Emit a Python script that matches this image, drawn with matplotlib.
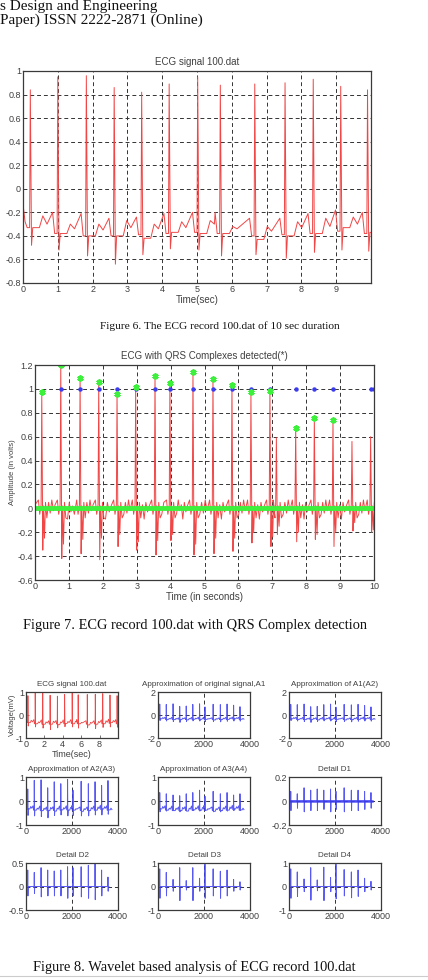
import numpy as np
import matplotlib.pyplot as plt
from matplotlib.ticker import FuncFormatter

plt.rcParams['font.family'] = ['Liberation Sans', 'DejaVu Sans']
plt.rcParams['axes.unicode_minus'] = False

# ---- Figure 6: raw ECG, 10 s ----
beat_t = [0.21, 1.00, 1.82, 2.62, 3.41, 4.20, 5.02, 5.67, 6.66, 7.53, 8.34, 9.13, 9.90]
r_amp = [0.84, 0.95, 0.96, 0.86, 0.82, 0.89, 0.95, 0.88, 0.89, 0.90, 0.93, 0.87, 0.84]
s_amp = [-0.48, -0.52, -0.57, -0.64, -0.56, -0.51, -0.52, -0.57, -0.56, -0.59, -0.54, -0.52, -0.53]
pr_lvl = [-0.33, -0.38, -0.40, -0.40, -0.39, -0.38, -0.37, -0.38, -0.40, -0.39, -0.38, -0.36, -0.38]
p_amp = [-0.28, -0.20, -0.21, -0.25, -0.24, -0.21, -0.20, -0.20, -0.25, -0.25, -0.21, -0.18, -0.20]
st_lvl = [-0.33, -0.38, -0.40, -0.40, -0.42, -0.37, -0.38, -0.38, -0.43, -0.40, -0.38, -0.33, -0.37]
t_amp = [-0.23, -0.30, -0.30, -0.27, -0.30, -0.28, -0.27, -0.32, -0.32, -0.28, -0.25, -0.24, -0.30]
t_end = [-0.30, -0.34, -0.35, -0.33, -0.34, -0.33, -0.30, -0.34, -0.36, -0.33, -0.32, -0.30, -0.36]
ecg_start = -0.13

# ---- Figure 7: filtered ECG + detections ----
qrs_t = [0.20, 0.76, 1.33, 1.88, 2.42, 2.97, 3.54, 3.98, 4.66, 5.25, 5.81, 6.37, 6.93, 7.12,
         7.69, 8.24, 8.79, 9.35, 9.90]
qrs_r = [0.95, 1.20, 1.09, 1.06, 0.96, 1.02, 1.12, 1.05, 1.14, 1.08, 1.03, 0.96, 0.98, 0.59,
         0.67, 0.76, 0.74, 0.56, 0.60]
qrs_s = [-0.35, -0.42, -0.38, -0.43, -0.32, -0.35, -0.39, -0.27, -0.39, -0.38, -0.36, -0.29,
         -0.32, -0.22, -0.28, -0.26, -0.32, -0.19, -0.20]
qrs_s2 = [-0.25, -0.30, -0.26, -0.25, -0.22, -0.28, -0.27, -0.22, -0.30, -0.25, -0.25, -0.20,
          -0.24, -0.15, -0.20, -0.22, -0.20, -0.12, -0.18]
pre7 = [0.07, -0.05, 0.03]
post7 = [0.02, 0.05, -0.08]
ripple7 = [0.05, -0.04, 0.07, -0.02, 0.03, -0.09, 0.05, -0.03, 0.02, -0.05]
star_t = [0.20, 0.76, 1.33, 1.88, 2.42, 2.97, 3.54, 3.98, 4.66, 5.25, 5.81, 6.37, 6.93,
          7.69, 8.24, 8.79]
star_v = [0.97, 1.20, 1.09, 1.06, 0.96, 1.02, 1.11, 1.05, 1.14, 1.08, 1.03, 0.97, 0.98,
          0.67, 0.76, 0.74]
dot_t = [0.76, 1.33, 1.88, 2.42, 2.97, 3.54, 3.98, 4.66, 5.25, 5.81, 6.37, 6.93, 7.69,
         8.24, 8.79, 9.92, 10.0]

# ---- Figure 8: wavelet approximations / details (per beat) ----
fs = 360
a1_r = [0.95, 0.92, 0.97, 0.75, 0.78, 0.92, 0.97, 0.70, 0.93, 0.90, 0.95, 0.85, 0.72]
a2_r = [0.92, 0.90, 0.95, 0.72, 0.75, 0.90, 0.95, 0.68, 0.92, 0.88, 0.93, 0.83, 0.70]
a3_r = [0.50, 0.86, 0.88, 0.55, 0.80, 0.72, 0.90, 0.45, 0.82, 0.72, 0.80, 0.65, 0.85]
a3_s = [-0.60, -0.62, -0.65, -0.70, -0.60, -0.58, -0.62, -0.60, -0.62, -0.62, -0.58, -0.58, -0.55]
a4_r = [0.35, 0.30, 0.25, 0.22, 0.30, 0.35, 0.45, 0.20, 0.40, 0.30, 0.35, 0.25, 0.30]
a4_s = [-0.45, -0.42, -0.40, -0.45, -0.42, -0.40, -0.42, -0.40, -0.45, -0.45, -0.42, -0.40, -0.40]
d1_up = [0.08, 0.06, 0.11, 0.09, 0.10, 0.09, 0.10, 0.08, 0.11, 0.09, 0.09, 0.08, 0.07]
d1_dn = [-0.08, -0.06, -0.09, -0.08, -0.08, -0.07, -0.09, -0.07, -0.09, -0.08, -0.08, -0.07, -0.06]
d2_up = [0.35, 0.30, 0.40, 0.35, 0.33, 0.35, 0.42, 0.40, 0.42, 0.45, 0.48, 0.35, 0.20]
d2_dn = [-0.20, -0.15, -0.22, -0.20, -0.20, -0.20, -0.25, -0.20, -0.22, -0.25, -0.28, -0.20, -0.10]
d3_up = [0.75, 0.60, 0.30, 0.80, 0.25, 0.80, 0.35, 0.95, 0.75, 0.65, 0.70, 0.30, 0.20]
d3_dn = [-0.50, -0.40, -0.20, -0.60, -0.15, -0.60, -0.20, -0.50, -0.40, -0.50, -0.40, -0.20, -0.15]
d4_up = [0.75, 0.62, 0.32, 0.80, 0.28, 0.82, 0.38, 0.95, 0.72, 0.62, 0.70, 0.35, 0.22]
d4_dn = [-0.50, -0.42, -0.22, -0.58, -0.18, -0.60, -0.22, -0.52, -0.40, -0.48, -0.42, -0.22, -0.15]

RED = '#f04646'
BLUE = '#3b3bf0'
GREEN = '#3cf03c'
TXT = '#404040'
W, H = 428, 980


def box(l, t, r, b):
    return [l / W, 1 - b / H, (r - l) / W, (b - t) / H]


def ecg_trace(r, s):
    xs, ys = [0.0], [ecg_start]
    for i, b in enumerate(beat_t):
        xs += [b - 0.15, b - 0.09, b - 0.02, b, b + 0.035, b + 0.07, b + 0.26, b + 0.36, b + 0.48]
        ys += [p_amp[i], pr_lvl[i], pr_lvl[i], r[i], s[i], st_lvl[i], st_lvl[i], t_amp[i], t_end[i]]
    return np.array(xs), np.array(ys)


def spikes(up, dn):
    xs, ys = [0.0], [0.0]
    for i, b in enumerate(beat_t):
        xs += [b - 0.02, b, b + 0.025, b + 0.05]
        ys += [0, up[i], dn[i], 0]
    xs.append(beat_t[-1] + 0.1)
    ys.append(0.0)
    return np.array(xs), np.array(ys)


def qrs_trace():
    xs, ys = [0.0], [0.03]
    k = 0
    for i, b in enumerate(qrs_t):
        xs += [b - 0.10, b - 0.06, b - 0.02, b, b + 0.03, b + 0.05, b + 0.08, b + 0.11, b + 0.15]
        ys += pre7 + [qrs_r[i], qrs_s[i], post7[0], qrs_s2[i]] + post7[1:]
        nxt = qrs_t[i + 1] - 0.12 if i + 1 < len(qrs_t) else 10.0
        n = int((nxt - b - 0.2) / 0.045)
        for x in np.linspace(b + 0.2, nxt, max(n, 0), endpoint=False):
            xs.append(x)
            ys.append(ripple7[k % len(ripple7)])
            k += 1
    return np.array(xs), np.array(ys)


def style(ax, fs_tick=6.5):
    for sp in ax.spines.values():
        sp.set_color('#3a3a3a')
        sp.set_linewidth(0.9)
    ax.tick_params(direction='in', length=2, width=0.5, labelsize=fs_tick,
                   colors=TXT, pad=1.5)
    fmt = FuncFormatter(lambda v, p: f'{round(v, 6) + 0.0:g}')
    ax.yaxis.set_major_formatter(fmt)
    ax.xaxis.set_major_formatter(fmt)


def grid(ax):
    ax.grid(True, ls=(0, (4, 3)), color='#333333', lw=0.7)
    ax.set_axisbelow(True)


fig = plt.figure(figsize=(W / 100, H / 100), dpi=100)

# header fragment of the journal page
fig.text(0.0, 1 - 10 / H, 's Design and Engineering', family='Liberation Serif',
         fontsize=11, color='#111111', va='baseline')
fig.text(0.0, 1 - 24 / H, 'Paper) ISSN 2222-2871 (Online)', family='Liberation Serif',
         fontsize=11, color='#111111', va='baseline')

# Figure 6
ax6 = fig.add_axes(box(23, 71, 371, 283))
x6, y6 = ecg_trace(r_amp, s_amp)
ax6.plot(x6, y6, color=RED, lw=0.7)
ax6.set_xlim(0, 10)
ax6.set_ylim(-0.8, 1)
ax6.set_xticks(range(0, 10))
ax6.set_yticks(np.arange(-0.8, 1.01, 0.2))
style(ax6)
grid(ax6)
ax6.set_title('ECG signal 100.dat', fontsize=7, color=TXT, pad=4)
ax6.set_xlabel('Time(sec)', fontsize=7, color=TXT, labelpad=1)
fig.text(100 / W, 1 - 329 / H, 'Figure 6. The ECG record 100.dat of 10 sec duration',
         family='Liberation Serif', fontsize=8.2, color='#111111', va='baseline')

# Figure 7
ax7 = fig.add_axes(box(35, 365, 374, 580))
x7, y7 = qrs_trace()
ax7.plot(x7, y7, color=RED, lw=0.7)
ax7.plot([0, 10], [0, 0], color=GREEN, lw=3.5, solid_capstyle='butt')
ax7.plot(dot_t, np.ones(len(dot_t)), ls='none', marker='o', ms=2.2, color=BLUE, mec=BLUE)
ax7.plot(star_t, star_v, ls='none', marker=(6, 2, 0), ms=4.5, mew=1.3, color=GREEN)
ax7.set_xlim(0, 10)
ax7.set_ylim(-0.6, 1.2)
ax7.set_xticks(range(0, 11))
ax7.set_yticks(np.arange(-0.6, 1.21, 0.2))
style(ax7)
grid(ax7)
ax7.set_title('ECG with QRS Complexes detected(*)', fontsize=7, color=TXT, pad=4)
ax7.set_xlabel('Time (in seconds)', fontsize=7, color=TXT, labelpad=1)
ax7.set_ylabel('Amplitude (in volts)', fontsize=5.5, color=TXT, labelpad=1)
fig.text(23 / W, 1 - 629 / H, 'Figure 7. ECG record 100.dat with QRS Complex detection',
         family='Liberation Serif', fontsize=10.4, color='#111111', va='baseline')

# Figure 8
cols = [26, 158, 289]
rows = [(692, 738), (777, 825), (863, 910)]
titles = ['ECG signal 100.dat', 'Approximation of original signal,A1', 'Approximation of A1(A2)',
          'Approximation of A2(A3)', 'Approximation of A3(A4)', 'Detail D1',
          'Detail D2', 'Detail D3', 'Detail D4']
ylims = [1, 2, 2, 1, 1, 0.2, 0.5, 1, 1]

sigs = [ecg_trace(r_amp, s_amp), ecg_trace(a1_r, s_amp), ecg_trace(a2_r, s_amp),
        ecg_trace(a3_r, a3_s), ecg_trace(a4_r, a4_s), spikes(d1_up, d1_dn),
        spikes(d2_up, d2_dn), spikes(d3_up, d3_dn), spikes(d4_up, d4_dn)]

for k in range(9):
    t, b = rows[k // 3]
    l = cols[k % 3]
    ax = fig.add_axes(box(l, t, l + 92, b))
    xs, ys = sigs[k]
    lim = ylims[k]
    if k == 0:
        ax.plot(xs, ys, color=RED, lw=0.6)
        ax.set_xlim(0, 10)
        ax.set_xticks([0, 2, 4, 6, 8])
        ax.set_xlabel('Time(sec)', fontsize=6.5, color=TXT, labelpad=1)
        ax.set_ylabel('Voltage(mV)', fontsize=5.5, color=TXT, labelpad=0)
    else:
        ax.plot(xs * fs, ys, color=BLUE, lw=0.7, alpha=0.85)
        if k == 5:
            ax.plot([0, beat_t[-1] * fs + 40], [0, 0], color=BLUE, lw=1.8, alpha=0.85)
        ax.set_xlim(0, 4000)
        ax.set_xticks([0, 2000, 4000])
        grid(ax)
    ax.set_ylim(-lim, lim)
    ax.set_yticks([-lim, 0, lim])
    style(ax)
    ax.set_title(titles[k], fontsize=5.8, color=TXT, pad=4.5)

fig.text(33 / W, 1 - 971 / H, 'Figure 8. Wavelet based analysis of ECG record 100.dat',
         family='Liberation Serif', fontsize=10.4, color='#111111', va='baseline')
fig.add_artist(plt.Line2D([0, 1], [1 - 976 / H, 1 - 976 / H], color='#cccccc', lw=0.8))

fig.savefig('out.png', dpi=100)
